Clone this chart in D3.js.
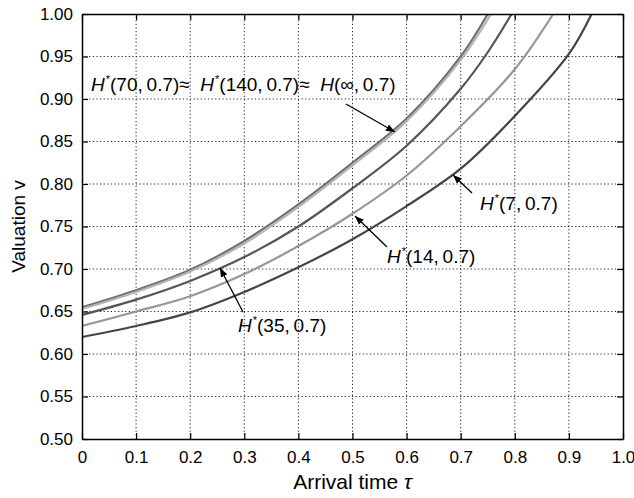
<!DOCTYPE html>
<head>
  <meta charset="utf-8">
  <script src="https://d3js.org/d3.v7.min.js"></script>
  <style>
    body { margin:0; background:#fff; }
    svg { font-family: "Liberation Sans", Arial, sans-serif; }
    .grid line { stroke:#222; stroke-width:1; stroke-dasharray:1.2,2.4; }
    .tick text { font-size:17px; fill:#000; }
  </style>
</head>
<body>
<script>
var width = 634, height = 498;
var margin = {top:14, right:11, bottom:59, left:82};

// arrival time values, one list per curve
var tau7   = [0, 0.1, 0.2, 0.3, 0.4, 0.5, 0.6, 0.7, 0.8, 0.9, 0.942];
var val7   = [0.620, 0.633, 0.649, 0.673, 0.702, 0.735, 0.774, 0.818, 0.880, 0.953, 1.0];
var tau14  = [0, 0.1, 0.2, 0.3, 0.4, 0.5, 0.6, 0.7, 0.8, 0.871];
var val14  = [0.633, 0.650, 0.668, 0.694, 0.727, 0.765, 0.810, 0.868, 0.935, 1.0];
var tau35  = [0, 0.1, 0.2, 0.3, 0.4, 0.5, 0.6, 0.7, 0.75, 0.794];
var val35  = [0.646, 0.664, 0.686, 0.714, 0.750, 0.795, 0.845, 0.912, 0.955, 1.0];
var tau70  = [0, 0.1, 0.2, 0.3, 0.4, 0.5, 0.6, 0.7, 0.756];
var val70  = [0.653, 0.673, 0.697, 0.730, 0.773, 0.822, 0.874, 0.946, 1.0];
var tauInf = [0, 0.1, 0.2, 0.3, 0.4, 0.5, 0.6, 0.7, 0.75];
var valInf = [0.655, 0.675, 0.699, 0.733, 0.776, 0.825, 0.877, 0.950, 1.0];

var xTicks = [0, 0.1, 0.2, 0.3, 0.4, 0.5, 0.6, 0.7, 0.8, 0.9, 1.0];
var yTicks = [0.50, 0.55, 0.60, 0.65, 0.70, 0.75, 0.80, 0.85, 0.90, 0.95, 1.00];

var series = [
  {tau: tauInf, val: valInf, color: "#6e6e6e"},
  {tau: tau70,  val: val70,  color: "#b4b4b4"},
  {tau: tau35,  val: val35,  color: "#555555"},
  {tau: tau14,  val: val14,  color: "#979797"},
  {tau: tau7,   val: val7,   color: "#444444"}
];

var svg = d3.select("body").append("svg")
  .attr("width", width).attr("height", height);

var x = d3.scaleLinear().domain([0, 1]).range([margin.left, width - margin.right]);
var y = d3.scaleLinear().domain([0.5, 1]).range([height - margin.bottom, margin.top]);

svg.append("defs").append("clipPath").attr("id", "clip")
  .append("rect")
  .attr("x", margin.left).attr("y", margin.top)
  .attr("width", x(1) - x(0)).attr("height", y(0.5) - y(1));

// dotted grid
var grid = svg.append("g").attr("class", "grid");
grid.selectAll("line.v").data(xTicks.slice(1, -1)).enter().append("line")
  .attr("x1", d => x(d)).attr("x2", d => x(d))
  .attr("y1", y(0.5)).attr("y2", y(1));
grid.selectAll("line.h").data(yTicks.slice(1, -1)).enter().append("line")
  .attr("x1", x(0)).attr("x2", x(1))
  .attr("y1", d => y(d)).attr("y2", d => y(d));

// curves
var line = d3.line()
  .x(d => x(d[0])).y(d => y(d[1]))
  .curve(d3.curveCatmullRom.alpha(0.5));

svg.append("g").attr("clip-path", "url(#clip)")
  .selectAll("path").data(series).enter().append("path")
  .attr("fill", "none")
  .attr("stroke", d => d.color)
  .attr("stroke-width", 2.2)
  .attr("d", d => line(d.tau.map((t, i) => [t, d.val[i]])));

// axes, ticks pointing inward on all four sides
var fmtX = d => d === 0 ? "0" : d3.format(".1f")(d);
svg.append("g").attr("transform", "translate(0," + y(0.5) + ")")
  .call(d3.axisBottom(x).tickValues(xTicks).tickFormat(fmtX).tickSizeInner(-6).tickSizeOuter(0).tickPadding(12));
svg.append("g").attr("transform", "translate(0," + y(1) + ")")
  .call(d3.axisTop(x).tickValues(xTicks).tickFormat("").tickSizeInner(-6).tickSizeOuter(0));
svg.append("g").attr("transform", "translate(" + x(0) + ",0)")
  .call(d3.axisLeft(y).tickValues(yTicks).tickFormat(d3.format(".2f")).tickSizeInner(-6).tickSizeOuter(0).tickPadding(9));
svg.append("g").attr("transform", "translate(" + x(1) + ",0)")
  .call(d3.axisRight(y).tickValues(yTicks).tickFormat("").tickSizeInner(-6).tickSizeOuter(0));
svg.selectAll(".domain").attr("stroke", "#000").attr("stroke-width", 1.5);
svg.selectAll(".tick line").attr("stroke", "#000").attr("stroke-width", 1.2);

// axis titles
var xt = svg.append("text")
  .attr("x", (x(0) + x(1)) / 2).attr("y", 489)
  .attr("text-anchor", "middle").style("font-size", "21px");
xt.append("tspan").text("Arrival time ");
xt.append("tspan").style("font-style", "italic").text("τ");

svg.append("text")
  .attr("transform", "translate(25," + ((y(0.5) + y(1)) / 2) + ") rotate(-90)")
  .attr("text-anchor", "middle").style("font-size", "19px")
  .text("Valuation v");

// annotations
svg.append("defs").append("marker")
  .attr("id", "arr").attr("viewBox", "0 0 10 10")
  .attr("refX", 10).attr("refY", 5)
  .attr("markerWidth", 9).attr("markerHeight", 9)
  .attr("markerUnits", "userSpaceOnUse")
  .attr("orient", "auto")
  .append("path").attr("d", "M0,1 L10,5 L0,9 Z").attr("fill", "#000");

function label(px, py, parts) {
  var t = svg.append("text").attr("x", px).attr("y", py).style("font-size", "19px");
  parts.forEach(function(p) {
    var s = t.append("tspan").text(p[0]);
    if (p[1] === "i") s.style("font-style", "italic");
    if (p[1] === "sup") s.style("font-size", "11px").attr("dy", -8).attr("dx", 1);
    if (p[1] === "down") s.attr("dy", 8);
  });
}
function arrow(x1, y1, x2, y2) {
  svg.append("line")
    .attr("x1", x1).attr("y1", y1).attr("x2", x2).attr("y2", y2)
    .attr("stroke", "#000").attr("stroke-width", 1.3)
    .attr("marker-end", "url(#arr)");
}

var th = "\u2009", gap = "\u00a0\u00a0";
label(91, 91, [["H", "i"], ["*", "sup"], ["(70," + th + "0.7)≈" + gap, "down"], ["H", "i"], ["*", "sup"],
  ["(140," + th + "0.7)≈" + gap, "down"], ["H", "i"], ["(∞," + th + "0.7)", ""]]);
arrow(346, 104, 395, 132);

label(480, 210, [["H", "i"], ["*", "sup"], ["(7," + th + "0.7)", "down"]]);
arrow(472, 193, 453, 175);

label(387, 263, [["H", "i"], ["*", "sup"], ["(14," + th + "0.7)", "down"]]);
arrow(387, 247, 355, 216);

label(238, 332, [["H", "i"], ["*", "sup"], ["(35," + th + "0.7)", "down"]]);
arrow(243, 312, 220, 268);
</script>
</body>
